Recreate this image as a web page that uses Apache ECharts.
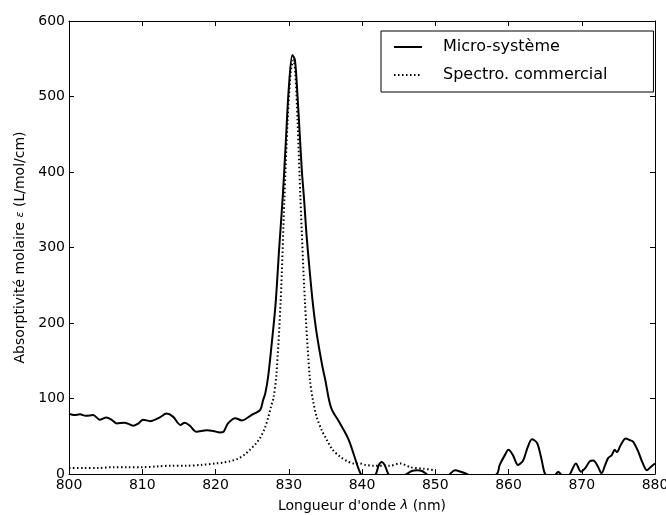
<!DOCTYPE html>
<html lang="fr">
<head>
    <meta charset="UTF-8">
    <title>Absorptivité molaire</title>
    <script src="https://cdn.jsdelivr.net/npm/echarts@6/dist/echarts.min.js"></script>
    <style>
        html, body { margin: 0; padding: 0; background: #fff; }
        #main { width: 666px; height: 515px; }
    </style>
</head>
<body>
<div id="main"></div>
<script>
    // Micro-système (trait plein)
    var microX = [800, 800.7, 801.5, 802.3, 803.3, 804.2, 805.1, 805.8, 806.5, 807.6, 808.2, 808.8, 809.5, 810.1, 811.1, 812.4, 813.3, 814.2, 815.2, 815.8, 816.5, 817.4, 818.8, 819.7, 820.6, 821.1, 821.7, 822.7, 823.6, 824.9, 826.1, 826.5, 826.8, 827.2, 827.7, 828.2, 828.7, 829.2, 829.6, 830.0, 830.5, 830.85, 831.2, 831.5, 831.8, 832.1, 832.4, 832.8, 833.3, 833.8, 834.6, 835.0, 835.5, 835.9, 837.0, 838.2, 839.6, 840.2, 841.2, 841.9, 842.3, 842.7, 843.1, 843.6, 844.5, 845.5, 846.1, 846.8, 847.5, 848.2, 848.8, 850, 851.5, 852.0, 852.7, 853.5, 854.3, 856, 858.4, 858.8, 859.5, 860.0, 860.6, 861.3, 862.0, 862.6, 863.2, 863.9, 864.5, 865.0, 865.8, 866.5, 866.8, 867.1, 867.8, 868.4, 869.2, 869.9, 870.5, 871.1, 871.6, 872.2, 872.7, 873.2, 873.6, 874.1, 874.5, 874.8, 875.3, 876.0, 876.5, 877.0, 877.7, 878.3, 878.9, 879.5, 880];
    var microY = [80, 78, 79, 77, 78, 72, 75, 72, 67, 68, 66, 64, 67, 72, 70, 75, 80, 76, 65, 68, 64, 56, 58, 57, 55, 56, 67, 74, 71, 78, 85, 98, 107, 130, 175, 225, 300, 370, 440, 510, 555, 548, 500, 450, 400, 363, 320, 275, 225, 187, 142, 124, 98, 85, 67, 45, 5, -5, -8, 0, 12, 16, 12, 0, -8, -3, 0, 4, 5, 4, 0, -8, -5, 0, 5, 3, 0, -10, 0, 12, 25, 32, 25, 12, 18, 35, 46, 41, 20, 0, -5, 0, 3, 0, -5, 0, 14, 3, 8, 17, 18, 10, 1, 12, 21, 25, 32, 29, 38, 47, 45, 43, 30, 15, 5, 10, 14];

    // Spectro. commercial (pointillés)
    var spectroX = [800, 802, 804, 806, 808, 810, 812, 814, 816, 818, 820, 821, 822, 823, 824, 824.7, 825.5, 826.1, 826.7, 827.2, 827.6, 827.9, 828.3, 828.9, 829.4, 829.85, 830.3, 830.65, 830.9, 831.2, 831.6, 832.2, 832.9, 833.3, 833.8, 834.5, 835.2, 836.0, 837.0, 838, 838.8, 839.7, 840.5, 841.5, 843.8, 845.2, 846.6, 848.4, 850];
    var spectroY = [8, 8, 8, 9, 9, 9, 10, 11, 11, 12, 14, 15, 17, 20, 26, 32, 40, 48, 60, 75, 90, 100, 130, 230, 363, 469, 535, 548, 530, 469, 363, 230, 124, 98, 76, 58, 45, 32, 23, 17, 14, 14, 12, 11, 11, 14, 9, 7, 5];

    var xTicks = [800, 810, 820, 830, 840, 850, 860, 870, 880];
    var yTicks = [0, 100, 200, 300, 400, 500, 600];

    function pairs(xs, ys) {
        var out = [];
        for (var i = 0; i < xs.length; i++) out.push([xs[i], ys[i]]);
        return out;
    }

    var font = 'DejaVu Sans';
    var tickStyle = { show: true, inside: true, length: 5, lineStyle: { color: '#000', width: 1 } };
    var lineAx = { show: true, onZero: false, lineStyle: { color: '#000', width: 1 } };

    var chart = echarts.init(document.getElementById('main'));
    var option = {
        animation: false,
        backgroundColor: '#fff',
        textStyle: { fontFamily: font, color: '#000' },
        grid: { left: 69, right: 11, top: 21, bottom: 41, containLabel: false, outerBoundsMode: 'none' },
        legend: {
            orient: 'vertical',
            left: 381,
            top: 31,
            padding: [8, 46, 9, 12],
            borderColor: '#000',
            borderWidth: 1,
            borderRadius: 0,
            itemWidth: 28,
            itemHeight: 14,
            itemGap: 12,
            itemStyle: { color: 'rgba(0,0,0,0)', borderWidth: 0, opacity: 0 },
            textStyle: { fontFamily: font, fontSize: 16, color: '#000', padding: [0, 0, 0, 16] },
            data: ['Micro-système', 'Spectro. commercial']
        },
        xAxis: [{
            type: 'value',
            min: xTicks[0],
            max: xTicks[xTicks.length - 1],
            interval: 10,
            name: "Longueur d'onde {i|λ} (nm)",
            nameLocation: 'middle',
            nameGap: 25,
            nameTextStyle: {
                fontFamily: font, fontSize: 14, color: '#000',
                rich: { i: { fontFamily: font, fontStyle: 'italic', fontSize: 13, color: '#000' } }
            },
            axisLine: lineAx,
            axisTick: tickStyle,
            axisLabel: { fontFamily: font, fontSize: 14, color: '#000', margin: 4, showMaxLabel: true, showMinLabel: true },
            splitLine: { show: false }
        }, {
            type: 'value',
            position: 'top',
            min: xTicks[0],
            max: xTicks[xTicks.length - 1],
            interval: 10,
            axisLine: lineAx,
            axisTick: tickStyle,
            axisLabel: { show: false },
            splitLine: { show: false }
        }],
        yAxis: [{
            type: 'value',
            min: yTicks[0],
            max: yTicks[yTicks.length - 1],
            interval: 100,
            name: 'Absorptivité molaire {i|ε} (L/mol/cm)',
            nameLocation: 'middle',
            nameGap: 41,
            nameRotate: 90,
            nameTextStyle: {
                fontFamily: font, fontSize: 14, color: '#000',
                rich: { i: { fontFamily: font, fontStyle: 'italic', fontSize: 11, color: '#000' } }
            },
            axisLine: lineAx,
            axisTick: tickStyle,
            axisLabel: { fontFamily: font, fontSize: 14, color: '#000', margin: 4 },
            splitLine: { show: false }
        }, {
            type: 'value',
            position: 'right',
            min: yTicks[0],
            max: yTicks[yTicks.length - 1],
            interval: 100,
            axisLine: lineAx,
            axisTick: tickStyle,
            axisLabel: { show: false },
            splitLine: { show: false }
        }],
        series: [{
            name: 'Micro-système',
            type: 'line',
            xAxisIndex: 0,
            yAxisIndex: 0,
            data: pairs(microX, microY),
            showSymbol: false,
            symbol: 'none',
            smooth: 0.3,
            clip: true,
            color: '#000',
            lineStyle: { color: '#000', width: 2 }
        }, {
            name: 'Spectro. commercial',
            type: 'line',
            xAxisIndex: 0,
            yAxisIndex: 0,
            data: pairs(spectroX, spectroY),
            showSymbol: false,
            symbol: 'none',
            smooth: 0.3,
            clip: true,
            color: '#000',
            lineStyle: { color: '#000', width: 2, type: [1.5, 2.5] }
        }]
    };
    chart.setOption(option);
</script>
</body>
</html>
